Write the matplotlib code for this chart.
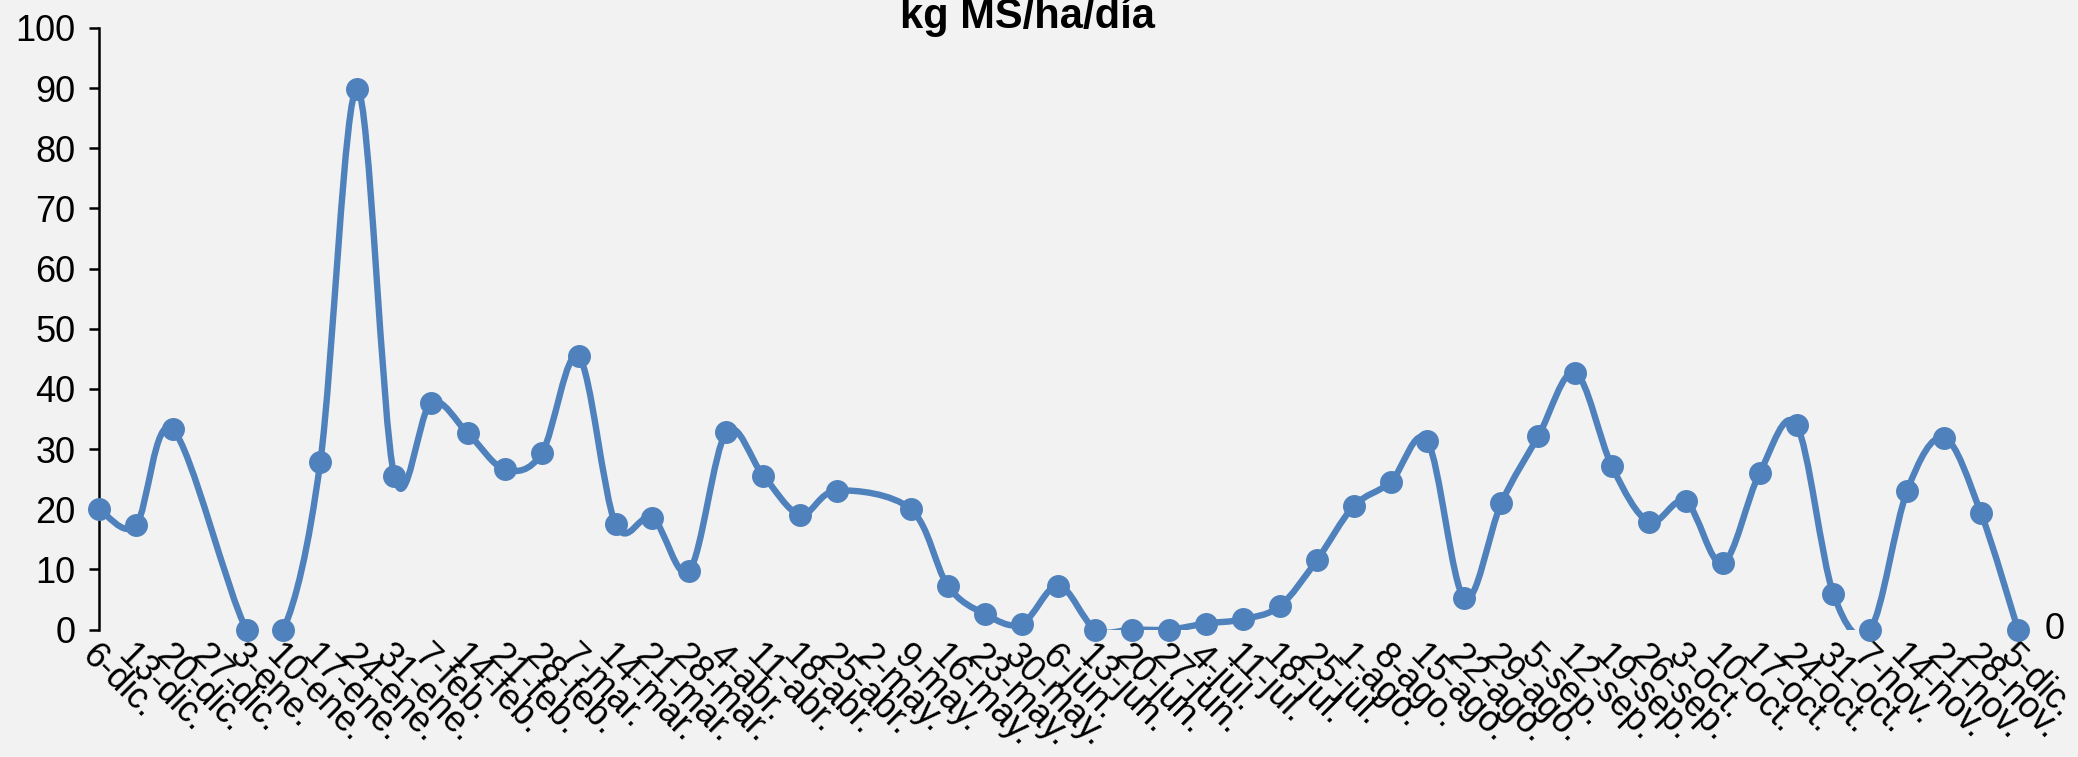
# weekly pasture growth chart - kg MS/ha/dia

# modules
import numpy as np
import matplotlib
matplotlib.use('Agg')
import matplotlib.pyplot as plt
from matplotlib.path import Path
from matplotlib.patches import PathPatch

plt.rcParams['font.family'] = ['Liberation Sans', 'DejaVu Sans']

# data (nan = week without a value)
weeks = ['6-dic.', '13-dic.', '20-dic.', '27-dic.', '3-ene.', '10-ene.', '17-ene.',
         '24-ene.', '31-ene.', '7-feb.', '14-feb.', '21-feb.', '28-feb.', '7-mar.',
         '14-mar.', '21-mar.', '28-mar.', '4-abr.', '11-abr.', '18-abr.', '25-abr.',
         '2-may.', '9-may.', '16-may.', '23-may.', '30-may.', '6-jun.', '13-jun.',
         '20-jun.', '27-jun.', '4-jul.', '11-jul.', '18-jul.', '25-jul.', '1-ago.',
         '8-ago.', '15-ago.', '22-ago.', '29-ago.', '5-sep.', '12-sep.', '19-sep.',
         '26-sep.', '3-oct.', '10-oct.', '17-oct.', '24-oct.', '31-oct.', '7-nov.',
         '14-nov.', '21-nov.', '28-nov.', '5-dic.']
growth = [20.1, 17.3, 33.3, np.nan, 0, 0, 27.9,
          89.9, 25.6, 37.7, 32.6, 26.6, 29.3, 45.4,
          17.5, 18.6, 9.8, 32.8, 25.6, 19.1, 23.1,
          np.nan, 20.0, 7.3, 2.6, 0.9, 7.3, 0,
          0, 0, 1.0, 1.7, 3.9, 11.5, 20.5,
          24.5, 31.3, 5.2, 21.0, 32.1, 42.7, 27.1,
          17.9, 21.3, 11.0, 26.0, 34.0, 5.9, 0,
          23.1, 31.9, 19.3, 0]
yticks = [0, 10, 20, 30, 40, 50, 60, 70, 80, 90, 100]
title = 'kg MS/ha/día'

blue = '#4f81bd'
bg = '#f2f2f2'

x = np.arange(len(weeks))
y = np.array(growth, dtype=float)
ok = ~np.isnan(y)
px = x[ok].astype(float)
py = y[ok]

fig = plt.figure(figsize=(20.78, 7.57), dpi=100, facecolor=bg)
ax = fig.add_axes([0.0476, 0.1684, 0.9235, 0.7947], facecolor=bg)

# smoothed line (excel style bezier through the points, gaps connected)
pts = np.column_stack((px, py))
verts = [pts[0]]
codes = [Path.MOVETO]
n = len(pts)
for i in range(n - 1):
    p0 = pts[max(i - 1, 0)]
    p1 = pts[i]
    p2 = pts[i + 1]
    p3 = pts[min(i + 2, n - 1)]
    verts += [p1 + (p2 - p0) / 6.0, p2 - (p3 - p1) / 6.0, p2]
    codes += [Path.CURVE4] * 3
ax.add_patch(PathPatch(Path(verts, codes), facecolor='none', edgecolor=blue,
                       lw=4.6, capstyle='round', joinstyle='round'))

# markers
ax.plot(px, py, 'o', color=blue, markersize=15.5, clip_on=False, zorder=3)

# label on last point
ax.annotate('%d' % growth[-1], (x[-1], growth[-1]), xytext=(19, 0),
            textcoords='offset points', ha='left', va='center', fontsize=26,
            annotation_clip=False)

ax.set_xlim(0, len(weeks) - 1)
ax.set_ylim(0, 100)
ax.set_yticks(yticks)
ax.set_xticks(x)
ax.set_xticklabels(weeks, rotation=-45, ha='left', va='top',
                   rotation_mode='anchor', fontsize=26)
ax.tick_params(axis='y', labelsize=26, length=7, width=1.8, pad=10)
ax.tick_params(axis='x', length=0, pad=6)
for s in ['top', 'right', 'bottom']:
    ax.spines[s].set_visible(False)
ax.spines['left'].set_linewidth(1.8)

fig.text(0.4947, 0.963, title, ha='center', va='baseline', fontsize=30,
         fontweight='bold')

plt.savefig('out.png', dpi=100, facecolor=bg)
